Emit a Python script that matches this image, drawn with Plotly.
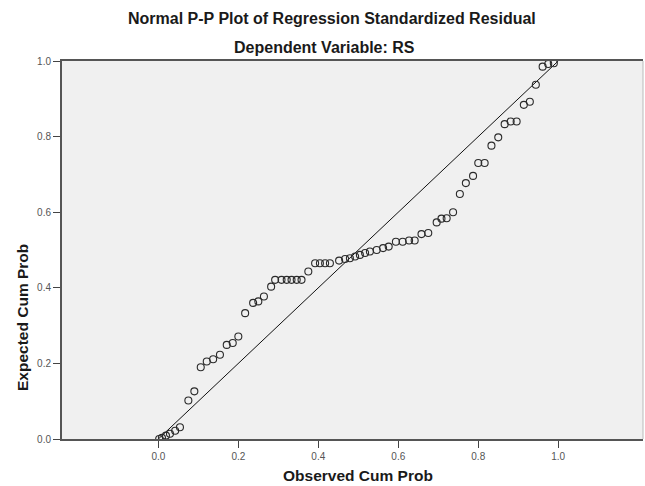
import plotly.graph_objects as go

observed = [0.002, 0.009, 0.019, 0.029, 0.042, 0.054, 0.075, 0.090, 0.106, 0.121,
            0.137, 0.154, 0.171, 0.186, 0.200, 0.217, 0.237, 0.250, 0.264, 0.282,
            0.292, 0.308, 0.321, 0.333, 0.346, 0.358, 0.375, 0.392, 0.404, 0.417,
            0.429, 0.452, 0.467, 0.479, 0.492, 0.504, 0.517, 0.529, 0.546, 0.562,
            0.576, 0.594, 0.611, 0.627, 0.641, 0.658, 0.675, 0.696, 0.708, 0.721,
            0.737, 0.754, 0.769, 0.787, 0.800, 0.816, 0.833, 0.850, 0.866, 0.881,
            0.896, 0.914, 0.929, 0.944, 0.961, 0.975, 0.989]
expected = [0.000, 0.003, 0.009, 0.014, 0.022, 0.031, 0.102, 0.126, 0.190, 0.205,
            0.211, 0.223, 0.249, 0.254, 0.271, 0.333, 0.360, 0.364, 0.377, 0.403,
            0.421, 0.421, 0.421, 0.421, 0.421, 0.421, 0.443, 0.465, 0.465, 0.465,
            0.465, 0.472, 0.476, 0.478, 0.483, 0.487, 0.492, 0.496, 0.500, 0.505,
            0.509, 0.522, 0.522, 0.525, 0.525, 0.542, 0.545, 0.573, 0.583, 0.584,
            0.600, 0.648, 0.677, 0.696, 0.730, 0.730, 0.776, 0.798, 0.833, 0.840,
            0.840, 0.884, 0.892, 0.937, 0.985, 0.992, 0.994]
ref_line_x = [0.0, 1.0]
ref_line_y = [0.0, 1.0]
tick_vals = [0.0, 0.2, 0.4, 0.6, 0.8, 1.0]
tick_text = ["0.0", "0.2", "0.4", "0.6", "0.8", "1.0"]

FONT = "Liberation Sans, Arial, sans-serif"
W, H = 645, 486
ML, MR, MT, MB = 62, 2, 61, 47

fig = go.Figure()
fig.add_trace(go.Scatter(x=ref_line_x, y=ref_line_y, mode="lines",
                         line=dict(color="#111111", width=1), hoverinfo="skip",
                         showlegend=False))
fig.add_trace(go.Scatter(x=observed, y=expected, mode="markers",
                         marker=dict(symbol="circle-open", size=7, color="#2a2a2a",
                                     line=dict(color="#2a2a2a", width=1.1)),
                         showlegend=False))

pw = W - ML - MR
ph = H - MT - MB
def px(xp):
    return (xp - ML) / pw
def py(yp):
    return (H - MB - yp) / ph

fig.update_layout(
    width=W, height=H,
    margin=dict(l=ML, r=MR, t=MT, b=MB),
    paper_bgcolor="white",
    plot_bgcolor="#f0f0f0",
    font=dict(family=FONT, color="#222222"),
    xaxis=dict(range=[-0.241, 1.212], tickvals=tick_vals, ticktext=tick_text,
               showgrid=False, zeroline=False, showline=True, linecolor="#555555",
               linewidth=2, mirror=True, ticks="outside", ticklen=7, tickwidth=1,
               tickcolor="#444444", tickfont=dict(size=10, color="#555555")),
    yaxis=dict(range=[0, 1], tickvals=tick_vals, ticktext=tick_text,
               showgrid=False, zeroline=False, showline=True, linecolor="#555555",
               linewidth=2, ticks="outside", ticklen=7, tickwidth=1,
               tickcolor="#444444", tickfont=dict(size=10, color="#555555")),
    annotations=[
        dict(text="<b>Normal P-P Plot of Regression Standardized Residual</b>",
             x=px(332), y=py(18), xref="paper", yref="paper", showarrow=False,
             xanchor="center", yanchor="middle",
             font=dict(size=16, color="#1a1a1a", family=FONT)),
        dict(text="<b>Dependent Variable: RS</b>",
             x=px(324), y=py(47), xref="paper", yref="paper", showarrow=False,
             xanchor="center", yanchor="middle",
             font=dict(size=16, color="#1a1a1a", family=FONT)),
        dict(text="<b>Observed Cum Prob</b>",
             x=px(358), y=py(475), xref="paper", yref="paper", showarrow=False,
             xanchor="center", yanchor="middle",
             font=dict(size=15.5, color="#1a1a1a", family=FONT)),
        dict(text="<b>Expected Cum Prob</b>", textangle=-90,
             x=px(22), y=py(318), xref="paper", yref="paper", showarrow=False,
             xanchor="center", yanchor="middle",
             font=dict(size=15.5, color="#1a1a1a", family=FONT)),
    ],
)

fig.add_shape(type="line", xref="paper", yref="paper", x0=1, x1=1, y0=0, y1=1,
              line=dict(color="#bbbbbb", width=1))

fig.write_html("out.html", config={"displayModeBar": False},
               post_script="document.body.style.margin='0';")
